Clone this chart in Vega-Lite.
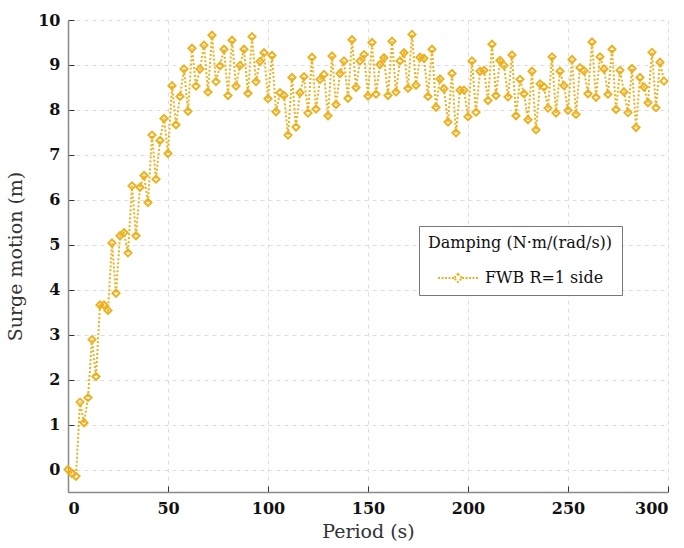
{
  "$schema": "https://vega.github.io/schema/vega-lite/v6.json",
  "autosize": {"type": "none"},
  "padding": {"left": 68, "top": 20, "right": 16, "bottom": 56},
  "width": 600,
  "height": 472,
  "background": "white",
  "config": {
    "view": {"stroke": null},
    "axis": {
      "domainColor": "#888888",
      "domainWidth": 1.5,
      "tickColor": "#333333",
      "tickSize": -6,
      "gridColor": "#dddddd",
      "gridDash": [4, 4],
      "gridWidth": 1,
      "labelFont": "DejaVu Serif",
      "labelFontWeight": "bold",
      "labelFontSize": 16,
      "labelColor": "#111111",
      "titleFont": "DejaVu Serif",
      "titleFontWeight": "normal",
      "titleFontSize": 19,
      "titleColor": "#333333"
    },
    "legend": {
      "titleFont": "DejaVu Serif",
      "titleFontSize": 16,
      "titleFontWeight": "normal",
      "titleColor": "#111111",
      "titleLimit": 400,
      "labelFont": "DejaVu Serif",
      "labelFontSize": 16,
      "labelColor": "#111111",
      "labelLimit": 400
    }
  },
  "data": {
    "values": [
      {"t": 0, "v": 0.0, "s": "FWB R=1 side"},
      {"t": 2, "v": -0.09, "s": "FWB R=1 side"},
      {"t": 4, "v": -0.15, "s": "FWB R=1 side"},
      {"t": 6, "v": 1.5, "s": "FWB R=1 side"},
      {"t": 8, "v": 1.04, "s": "FWB R=1 side"},
      {"t": 10, "v": 1.6, "s": "FWB R=1 side"},
      {"t": 12, "v": 2.89, "s": "FWB R=1 side"},
      {"t": 14, "v": 2.07, "s": "FWB R=1 side"},
      {"t": 16, "v": 3.66, "s": "FWB R=1 side"},
      {"t": 18, "v": 3.66, "s": "FWB R=1 side"},
      {"t": 20, "v": 3.54, "s": "FWB R=1 side"},
      {"t": 22, "v": 5.04, "s": "FWB R=1 side"},
      {"t": 24, "v": 3.92, "s": "FWB R=1 side"},
      {"t": 26, "v": 5.2, "s": "FWB R=1 side"},
      {"t": 28, "v": 5.27, "s": "FWB R=1 side"},
      {"t": 30, "v": 4.82, "s": "FWB R=1 side"},
      {"t": 32, "v": 6.31, "s": "FWB R=1 side"},
      {"t": 34, "v": 5.2, "s": "FWB R=1 side"},
      {"t": 36, "v": 6.28, "s": "FWB R=1 side"},
      {"t": 38, "v": 6.54, "s": "FWB R=1 side"},
      {"t": 40, "v": 5.94, "s": "FWB R=1 side"},
      {"t": 42, "v": 7.44, "s": "FWB R=1 side"},
      {"t": 44, "v": 6.46, "s": "FWB R=1 side"},
      {"t": 46, "v": 7.32, "s": "FWB R=1 side"},
      {"t": 48, "v": 7.81, "s": "FWB R=1 side"},
      {"t": 50, "v": 7.03, "s": "FWB R=1 side"},
      {"t": 52, "v": 8.54, "s": "FWB R=1 side"},
      {"t": 54, "v": 7.67, "s": "FWB R=1 side"},
      {"t": 56, "v": 8.3, "s": "FWB R=1 side"},
      {"t": 58, "v": 8.91, "s": "FWB R=1 side"},
      {"t": 60, "v": 7.97, "s": "FWB R=1 side"},
      {"t": 62, "v": 9.37, "s": "FWB R=1 side"},
      {"t": 64, "v": 8.53, "s": "FWB R=1 side"},
      {"t": 66, "v": 8.91, "s": "FWB R=1 side"},
      {"t": 68, "v": 9.44, "s": "FWB R=1 side"},
      {"t": 70, "v": 8.4, "s": "FWB R=1 side"},
      {"t": 72, "v": 9.66, "s": "FWB R=1 side"},
      {"t": 74, "v": 8.63, "s": "FWB R=1 side"},
      {"t": 76, "v": 8.98, "s": "FWB R=1 side"},
      {"t": 78, "v": 9.35, "s": "FWB R=1 side"},
      {"t": 80, "v": 8.32, "s": "FWB R=1 side"},
      {"t": 82, "v": 9.55, "s": "FWB R=1 side"},
      {"t": 84, "v": 8.53, "s": "FWB R=1 side"},
      {"t": 86, "v": 8.99, "s": "FWB R=1 side"},
      {"t": 88, "v": 9.35, "s": "FWB R=1 side"},
      {"t": 90, "v": 8.37, "s": "FWB R=1 side"},
      {"t": 92, "v": 9.63, "s": "FWB R=1 side"},
      {"t": 94, "v": 8.63, "s": "FWB R=1 side"},
      {"t": 96, "v": 9.08, "s": "FWB R=1 side"},
      {"t": 98, "v": 9.27, "s": "FWB R=1 side"},
      {"t": 100, "v": 8.25, "s": "FWB R=1 side"},
      {"t": 102, "v": 9.21, "s": "FWB R=1 side"},
      {"t": 104, "v": 7.96, "s": "FWB R=1 side"},
      {"t": 106, "v": 8.38, "s": "FWB R=1 side"},
      {"t": 108, "v": 8.32, "s": "FWB R=1 side"},
      {"t": 110, "v": 7.44, "s": "FWB R=1 side"},
      {"t": 112, "v": 8.72, "s": "FWB R=1 side"},
      {"t": 114, "v": 7.62, "s": "FWB R=1 side"},
      {"t": 116, "v": 8.38, "s": "FWB R=1 side"},
      {"t": 118, "v": 8.74, "s": "FWB R=1 side"},
      {"t": 120, "v": 7.93, "s": "FWB R=1 side"},
      {"t": 122, "v": 9.17, "s": "FWB R=1 side"},
      {"t": 124, "v": 8.02, "s": "FWB R=1 side"},
      {"t": 126, "v": 8.68, "s": "FWB R=1 side"},
      {"t": 128, "v": 8.79, "s": "FWB R=1 side"},
      {"t": 130, "v": 7.87, "s": "FWB R=1 side"},
      {"t": 132, "v": 9.2, "s": "FWB R=1 side"},
      {"t": 134, "v": 8.12, "s": "FWB R=1 side"},
      {"t": 136, "v": 8.81, "s": "FWB R=1 side"},
      {"t": 138, "v": 9.09, "s": "FWB R=1 side"},
      {"t": 140, "v": 8.26, "s": "FWB R=1 side"},
      {"t": 142, "v": 9.56, "s": "FWB R=1 side"},
      {"t": 144, "v": 8.5, "s": "FWB R=1 side"},
      {"t": 146, "v": 9.09, "s": "FWB R=1 side"},
      {"t": 148, "v": 9.23, "s": "FWB R=1 side"},
      {"t": 150, "v": 8.31, "s": "FWB R=1 side"},
      {"t": 152, "v": 9.5, "s": "FWB R=1 side"},
      {"t": 154, "v": 8.35, "s": "FWB R=1 side"},
      {"t": 156, "v": 9.01, "s": "FWB R=1 side"},
      {"t": 158, "v": 9.16, "s": "FWB R=1 side"},
      {"t": 160, "v": 8.32, "s": "FWB R=1 side"},
      {"t": 162, "v": 9.53, "s": "FWB R=1 side"},
      {"t": 164, "v": 8.4, "s": "FWB R=1 side"},
      {"t": 166, "v": 9.09, "s": "FWB R=1 side"},
      {"t": 168, "v": 9.27, "s": "FWB R=1 side"},
      {"t": 170, "v": 8.48, "s": "FWB R=1 side"},
      {"t": 172, "v": 9.68, "s": "FWB R=1 side"},
      {"t": 174, "v": 8.55, "s": "FWB R=1 side"},
      {"t": 176, "v": 9.17, "s": "FWB R=1 side"},
      {"t": 178, "v": 9.15, "s": "FWB R=1 side"},
      {"t": 180, "v": 8.3, "s": "FWB R=1 side"},
      {"t": 182, "v": 9.35, "s": "FWB R=1 side"},
      {"t": 184, "v": 8.06, "s": "FWB R=1 side"},
      {"t": 186, "v": 8.69, "s": "FWB R=1 side"},
      {"t": 188, "v": 8.47, "s": "FWB R=1 side"},
      {"t": 190, "v": 7.73, "s": "FWB R=1 side"},
      {"t": 192, "v": 8.81, "s": "FWB R=1 side"},
      {"t": 194, "v": 7.49, "s": "FWB R=1 side"},
      {"t": 196, "v": 8.44, "s": "FWB R=1 side"},
      {"t": 198, "v": 8.44, "s": "FWB R=1 side"},
      {"t": 200, "v": 7.85, "s": "FWB R=1 side"},
      {"t": 202, "v": 9.09, "s": "FWB R=1 side"},
      {"t": 204, "v": 7.95, "s": "FWB R=1 side"},
      {"t": 206, "v": 8.86, "s": "FWB R=1 side"},
      {"t": 208, "v": 8.88, "s": "FWB R=1 side"},
      {"t": 210, "v": 8.21, "s": "FWB R=1 side"},
      {"t": 212, "v": 9.46, "s": "FWB R=1 side"},
      {"t": 214, "v": 8.32, "s": "FWB R=1 side"},
      {"t": 216, "v": 9.1, "s": "FWB R=1 side"},
      {"t": 218, "v": 8.99, "s": "FWB R=1 side"},
      {"t": 220, "v": 8.29, "s": "FWB R=1 side"},
      {"t": 222, "v": 9.22, "s": "FWB R=1 side"},
      {"t": 224, "v": 7.87, "s": "FWB R=1 side"},
      {"t": 226, "v": 8.68, "s": "FWB R=1 side"},
      {"t": 228, "v": 8.36, "s": "FWB R=1 side"},
      {"t": 230, "v": 7.78, "s": "FWB R=1 side"},
      {"t": 232, "v": 8.86, "s": "FWB R=1 side"},
      {"t": 234, "v": 7.56, "s": "FWB R=1 side"},
      {"t": 236, "v": 8.58, "s": "FWB R=1 side"},
      {"t": 238, "v": 8.51, "s": "FWB R=1 side"},
      {"t": 240, "v": 8.04, "s": "FWB R=1 side"},
      {"t": 242, "v": 9.18, "s": "FWB R=1 side"},
      {"t": 244, "v": 7.93, "s": "FWB R=1 side"},
      {"t": 246, "v": 8.86, "s": "FWB R=1 side"},
      {"t": 248, "v": 8.54, "s": "FWB R=1 side"},
      {"t": 250, "v": 7.99, "s": "FWB R=1 side"},
      {"t": 252, "v": 9.12, "s": "FWB R=1 side"},
      {"t": 254, "v": 7.9, "s": "FWB R=1 side"},
      {"t": 256, "v": 8.94, "s": "FWB R=1 side"},
      {"t": 258, "v": 8.87, "s": "FWB R=1 side"},
      {"t": 260, "v": 8.36, "s": "FWB R=1 side"},
      {"t": 262, "v": 9.51, "s": "FWB R=1 side"},
      {"t": 264, "v": 8.28, "s": "FWB R=1 side"},
      {"t": 266, "v": 9.18, "s": "FWB R=1 side"},
      {"t": 268, "v": 8.91, "s": "FWB R=1 side"},
      {"t": 270, "v": 8.35, "s": "FWB R=1 side"},
      {"t": 272, "v": 9.35, "s": "FWB R=1 side"},
      {"t": 274, "v": 8.01, "s": "FWB R=1 side"},
      {"t": 276, "v": 8.88, "s": "FWB R=1 side"},
      {"t": 278, "v": 8.4, "s": "FWB R=1 side"},
      {"t": 280, "v": 7.94, "s": "FWB R=1 side"},
      {"t": 282, "v": 8.92, "s": "FWB R=1 side"},
      {"t": 284, "v": 7.61, "s": "FWB R=1 side"},
      {"t": 286, "v": 8.72, "s": "FWB R=1 side"},
      {"t": 288, "v": 8.51, "s": "FWB R=1 side"},
      {"t": 290, "v": 8.16, "s": "FWB R=1 side"},
      {"t": 292, "v": 9.28, "s": "FWB R=1 side"},
      {"t": 294, "v": 8.05, "s": "FWB R=1 side"},
      {"t": 296, "v": 9.06, "s": "FWB R=1 side"},
      {"t": 298, "v": 8.64, "s": "FWB R=1 side"}
    ]
  },
  "encoding": {
    "x": {
      "field": "t", "type": "quantitative", "title": "Period (s)",
      "scale": {"domain": [0, 300], "nice": false},
      "axis": {"values": [0, 50, 100, 150, 200, 250, 300], "labelPadding": 14, "titlePadding": 6}
    },
    "y": {
      "field": "v", "type": "quantitative", "title": "Surge motion (m)",
      "scale": {"domain": [-0.5, 10], "nice": false, "zero": false},
      "axis": {"values": [0, 1, 2, 3, 4, 5, 6, 7, 8, 9, 10], "labelPadding": 14, "titlePadding": 12}
    }
  },
  "layer": [
    {
      "mark": {"type": "line", "strokeWidth": 2, "strokeDash": [2, 2]},
      "encoding": {
        "color": {
          "field": "s", "type": "nominal",
          "scale": {"range": ["#EDB120"]},
          "title": "Damping (N·m/(rad/s))",
          "legend": {
            "orient": "none",
            "legendX": 351,
            "legendY": 206,
            "fillColor": "white",
            "strokeColor": "#777777",
            "padding": 9,
            "titlePadding": 6,
            "titleAnchor": "middle",
            "symbolType": "M-1,0L-0.2,0M0.2,0L1,0M0,-0.2L0.2,0L0,0.2L-0.2,0Z",
            "symbolSize": 1600,
            "symbolStrokeWidth": 2,
            "symbolDash": [2, 1.5],
            "symbolFillColor": "white",
            "labelOffset": 6
          }
        }
      }
    },
    {
      "mark": {"type": "point", "shape": "diamond", "filled": false, "size": 50, "strokeWidth": 2, "opacity": 1},
      "encoding": {
        "color": {"field": "s", "type": "nominal", "scale": {"range": ["#EDB120"]}, "legend": null}
      }
    }
  ]
}
